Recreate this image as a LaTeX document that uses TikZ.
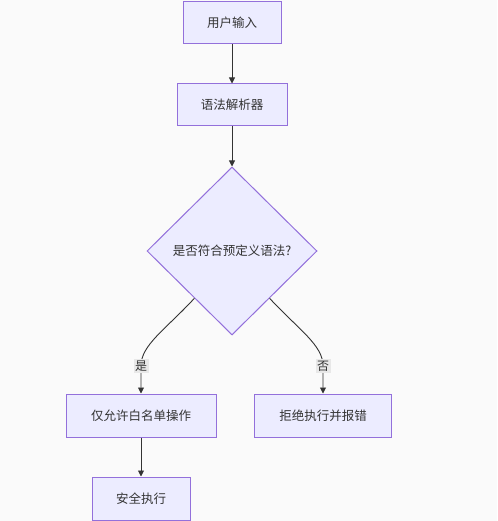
\documentclass[tikz,border=0pt]{standalone}
\usepackage{fontspec}
\setmainfont{Noto Sans CJK SC}
\usetikzlibrary{shapes.geometric,arrows.meta,calc}
\definecolor{nodefill}{HTML}{ECECFF}
\definecolor{nodeline}{HTML}{9370DB}
\definecolor{txt}{HTML}{333333}
\definecolor{edge}{HTML}{333333}
\definecolor{lblbg}{HTML}{E8E8E8}
\definecolor{bg}{HTML}{FAFAFA}
\begin{document}
\begin{tikzpicture}[x=1pt,y=-1pt,
  every node/.style={font=\fontsize{12.5}{14}\selectfont, text=txt},
  procbox/.style={draw=nodeline, fill=nodefill, line width=1pt, inner sep=0pt, rectangle},
  decision/.style={draw=nodeline, fill=nodefill, line width=1pt, inner sep=0pt, diamond, minimum width=170pt, minimum height=168pt},
  conn/.style={draw=edge, line width=0.9pt, -{Triangle[length=6pt,width=6pt]}},
  lbl/.style={fill=lblbg, inner sep=1.5pt, font=\fontsize{12}{14}\selectfont}]
\fill[bg] (0,0) rectangle (497,521);
\useasboundingbox (0,0) rectangle (497,521);
\node[procbox, minimum width=98pt, minimum height=42pt] (in) at (232,23) {用户输入};
\node[procbox, minimum width=110pt, minimum height=42pt] (parse) at (232,105) {语法解析器};
\node[decision] (dec) at (232,251) {是否符合预定义语法?};
\node[procbox, minimum width=150pt, minimum height=43pt] (white) at (141,415.5) {仅允许白名单操作};
\node[procbox, minimum width=137pt, minimum height=43pt] (reject) at (323,415.5) {拒绝执行并报错};
\node[procbox, minimum width=98pt, minimum height=43pt] (safe) at (141,498.5) {安全执行};
\draw[conn] (in) -- (parse);
\draw[conn] (parse) -- (dec);
\draw[conn] (white) -- (safe);
\coordinate (yl) at ($(dec.south)!0.44!(dec.west)$);
\coordinate (yr) at ($(dec.south)!0.44!(dec.east)$);
\coordinate (ym) at (141,366);
\coordinate (nm) at (323,366);
\draw[conn] (yl) .. controls (165,330) and (141,345) .. (ym) -- (white);
\draw[conn] (yr) .. controls (299,330) and (323,345) .. (nm) -- (reject);
\node[lbl] (yes) at (ym) {是};
\node[lbl] (no) at (nm) {否};
\end{tikzpicture}
\end{document}
